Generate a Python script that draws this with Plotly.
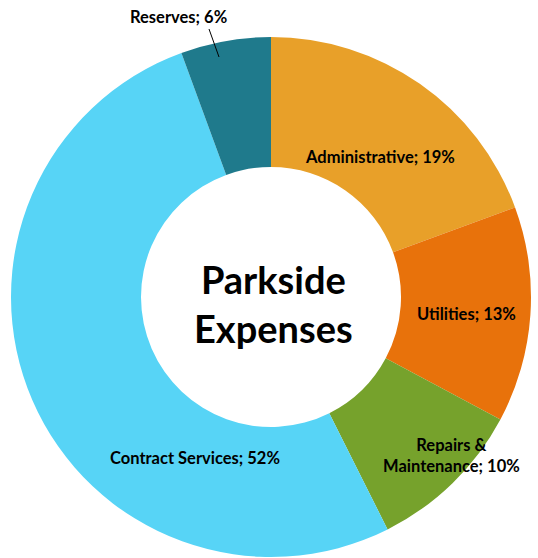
import plotly.graph_objects as go

# ---- data ----
categories = ["Administrative", "Utilities", "Repairs &<br>Maintenance", "Contract Services", "Reserves"]
values = [19.4, 13.4, 9.8, 51.8, 5.6]
colors = ["#E8A029", "#E8720B", "#76A22C", "#57D4F6", "#1F7A8C"]
title_text = "Parkside<br>Expenses"

# ---- layout helpers (pixel positions -> paper) ----
W, H = 538, 558
ML, MR, MT, MB = 11, 7, 37, 1
PW = W - ML - MR
PH = H - MT - MB


def px(x):
    return (x - ML) / PW


def py(y):
    return (H - MB - y) / PH


label_pos = [(380, 157), (466, 314), (451, 455), (195, 458), (178, 17)]

fig = go.Figure(go.Pie(
    labels=categories,
    values=values,
    hole=0.5,
    sort=False,
    direction="clockwise",
    rotation=0,
    marker=dict(colors=colors, line=dict(color="white", width=0)),
    textinfo="none",
    hoverinfo="label+percent",
    showlegend=False,
))

total = sum(values)
font_name = "Lato, Carlito, Calibri, sans-serif"
annotations = []
for cat, v, (lx, ly) in zip(categories, values, label_pos):
    pct = round(v / total * 100)
    annotations.append(dict(
        x=px(lx), y=py(ly), xref="paper", yref="paper",
        text=f"<b>{cat}; {pct}%</b>", showarrow=False,
        xanchor="center", yanchor="middle", align="center",
        font=dict(family=font_name, size=16.5, color="#000000"),
    ))

annotations.append(dict(
    x=px(273), y=py(303), xref="paper", yref="paper",
    text=f"<b>{title_text}</b>", showarrow=False,
    xanchor="center", yanchor="middle", align="center",
    font=dict(family=font_name, size=38, color="#000000"),
))

fig.update_layout(
    width=W, height=H,
    margin=dict(l=ML, r=MR, t=MT, b=MB, pad=0),
    paper_bgcolor="white", plot_bgcolor="white",
    annotations=annotations,
    shapes=[dict(type="line", xref="paper", yref="paper",
                 x0=px(209), y0=py(29), x1=px(219), y1=py(57),
                 line=dict(color="#000000", width=1))],
)

fig.write_html("out.html", config={"displayModeBar": False})
